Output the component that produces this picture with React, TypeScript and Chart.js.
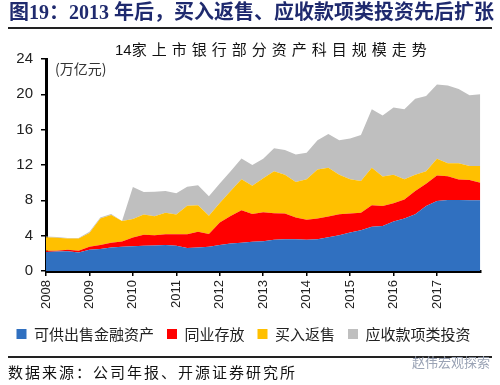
import React, { useEffect, useRef } from 'react';
import { Chart, registerables } from 'chart.js';

Chart.register(...registerables);

// Year tick labels (one label every 4 quarterly points)
const yearLabels = ['2008', '2009', '2010', '2011', '2012', '2013', '2014', '2015', '2016', '2017'];

// 41 quarterly observation periods
const periods = [
  '2008Q1', '2008Q2', '2008Q3', '2008Q4',
  '2009Q1', '2009Q2', '2009Q3', '2009Q4',
  '2010Q1', '2010Q2', '2010Q3', '2010Q4',
  '2011Q1', '2011Q2', '2011Q3', '2011Q4',
  '2012Q1', '2012Q2', '2012Q3', '2012Q4',
  '2013Q1', '2013Q2', '2013Q3', '2013Q4',
  '2014Q1', '2014Q2', '2014Q3', '2014Q4',
  '2015Q1', '2015Q2', '2015Q3', '2015Q4',
  '2016Q1', '2016Q2', '2016Q3', '2016Q4',
  '2017Q1', '2017Q2', '2017Q3', '2017Q4',
  '2018Q1',
];

// Values in 万亿元 (stacked components)
const availableForSale = [2.15, 2.2, 2.25, 2.1, 2.4, 2.5, 2.65, 2.75, 2.8, 2.85, 2.9, 2.95, 2.85, 2.6, 2.67, 2.74, 2.93, 3.1, 3.2, 3.32, 3.38, 3.55, 3.6, 3.6, 3.53, 3.6, 3.83, 4.06, 4.36, 4.62, 5.0, 5.1, 5.6, 5.93, 6.42, 7.36, 7.92, 8.04, 8.04, 8.0, 8.0];
const interbankDeposits = [0.15, 0.1, 0.15, 0.2, 0.35, 0.45, 0.55, 0.6, 1.0, 1.25, 1.15, 1.2, 1.32, 1.57, 1.76, 1.46, 2.55, 3.13, 3.67, 3.13, 3.27, 3.0, 2.9, 2.45, 2.27, 2.33, 2.33, 2.36, 2.14, 1.98, 2.44, 2.26, 2.06, 2.17, 2.63, 2.52, 2.88, 2.7, 2.33, 2.3, 2.0];
const reverseRepo = [1.53, 1.46, 1.28, 1.38, 1.55, 2.98, 3.15, 2.32, 2.1, 2.3, 2.15, 2.45, 2.23, 3.23, 3.02, 2.05, 2.22, 2.82, 3.53, 3.2, 3.85, 4.75, 4.4, 4.02, 4.6, 5.57, 5.54, 4.48, 3.9, 3.6, 4.26, 3.34, 3.24, 2.3, 1.85, 1.42, 1.9, 1.46, 1.83, 1.6, 1.9];
const receivablesInvest = [0.07, 0.09, 0.07, 0.07, 0.15, 0.12, 0.11, 0, 3.6, 2.55, 2.78, 2.45, 2.4, 2.15, 2.27, 2.2, 2.2, 2.25, 2.35, 2.35, 2.2, 2.6, 2.8, 3.13, 3.0, 3.3, 3.8, 3.9, 4.6, 5.2, 6.6, 6.9, 7.6, 7.9, 8.6, 8.5, 8.4, 8.8, 8.4, 8.0, 8.1];

const seriesNames = ['可供出售金融资产', '同业存放', '买入返售', '应收款项类投资'];
const seriesColors = ['#3070C0', '#FF0000', '#FFC000', '#BFBFBF'];
const yTickValues = [0, 4, 8, 12, 16, 20, 24];

const CJK = '"Noto Sans CJK SC", sans-serif';
const LAT = '"Liberation Sans", Arial, sans-serif';

export default function App() {
  const canvasRef = useRef<HTMLCanvasElement | null>(null);

  useEffect(() => {
    if (!canvasRef.current) return;
    const seriesValues = [availableForSale, interbankDeposits, reverseRepo, receivablesInvest];
    const chart = new Chart(canvasRef.current, {
      type: 'line',
      data: {
        labels: periods,
        datasets: seriesValues.map((vals, i) => ({
          label: seriesNames[i],
          data: vals,
          backgroundColor: seriesColors[i],
          borderColor: 'rgba(0,0,0,0)',
          borderWidth: 0,
          pointRadius: 0,
          tension: 0,
          fill: i === 0 ? 'origin' : '-1',
        })),
      },
      options: {
        animation: false,
        responsive: true,
        maintainAspectRatio: false,
        layout: { padding: { left: 0, right: 13, top: 59, bottom: 33.5 } },
        plugins: {
          title: { display: false },
          tooltip: { enabled: false },
          legend: {
            display: true,
            position: 'bottom',
            labels: {
              boxWidth: 10,
              boxHeight: 10,
              padding: 13,
              color: '#222',
              font: { family: CJK, size: 15 },
            },
          },
        },
        scales: {
          x: {
            type: 'category',
            offset: false,
            afterFit: (s: any) => { s.height = 42.5; },
            ticks: {
              autoSkip: false,
              maxRotation: 90,
              minRotation: 90,
              padding: 4,
              color: '#222',
              font: { family: LAT, size: 13 },
              callback: (_v: any, i: number) => (i % 4 === 0 && i / 4 < yearLabels.length ? yearLabels[i / 4] : ''),
            },
            grid: {
              display: true,
              drawOnChartArea: false,
              drawTicks: true,
              tickLength: 5,
              lineWidth: 1.5,
              color: (ctx: any) => (ctx.index % 4 === 0 && ctx.index / 4 < yearLabels.length ? '#000' : 'rgba(0,0,0,0)'),
            },
            border: { display: true, color: '#000', width: 3 },
          },
          y: {
            stacked: true,
            min: 0,
            max: 24,
            afterFit: (s: any) => { s.width = 46; },
            afterBuildTicks: (axis: any) => { axis.ticks = yTickValues.map((v) => ({ value: v })); },
            ticks: {
              padding: 8,
              color: '#222',
              font: { family: LAT, size: 15 },
            },
            grid: {
              display: true,
              drawOnChartArea: false,
              drawTicks: true,
              tickLength: 5,
              lineWidth: 1.5,
              color: '#000',
            },
            border: { display: true, color: '#000', width: 3 },
          },
        },
      },
    });
    return () => chart.destroy();
  }, []);

  return (
    <div style={{ position: 'absolute', left: 0, top: 0, width: 500, height: 385, background: '#fff', overflow: 'hidden' }}>
      <div style={{ position: 'absolute', left: 0, top: 0, width: 500, height: 385 }}>
        <canvas ref={canvasRef} />
      </div>
      <div style={{ position: 'absolute', left: 9, top: 0, fontFamily: '"Liberation Serif", "Noto Sans CJK SC", serif', fontWeight: 'bold', fontSize: 20, lineHeight: '25px', color: '#1F2A6E', whiteSpace: 'nowrap' }}>
        图19：2013 年后，买入返售、应收款项类投资先后扩张
      </div>
      <div style={{ position: 'absolute', left: 8, top: 27, width: 484, height: 2, background: '#222' }} />
      <div style={{ position: 'absolute', left: 115, top: 39, fontFamily: CJK, fontSize: 15, lineHeight: '20px', letterSpacing: 5, color: '#111', whiteSpace: 'nowrap' }}>
        <span style={{ fontFamily: LAT, letterSpacing: 0 }}>14</span>家上市银行部分资产科目规模走势
      </div>
      <div style={{ position: 'absolute', left: 55, top: 60, fontFamily: CJK, fontSize: 14, lineHeight: '16px', color: '#333', whiteSpace: 'nowrap' }}>
        (万亿元)
      </div>
      <div style={{ position: 'absolute', left: 8, top: 356, width: 484, height: 1.5, background: '#222' }} />
      <div style={{ position: 'absolute', left: 8, top: 362, fontFamily: CJK, fontSize: 15, lineHeight: '20px', letterSpacing: 2, color: '#111', whiteSpace: 'nowrap' }}>
        数据来源：公司年报、开源证券研究所
      </div>
      <div style={{ position: 'absolute', left: 412, top: 354, fontFamily: CJK, fontSize: 13, lineHeight: '16px', color: '#9aa3b5', whiteSpace: 'nowrap' }}>
        赵伟宏观探索
      </div>
    </div>
  );
}
